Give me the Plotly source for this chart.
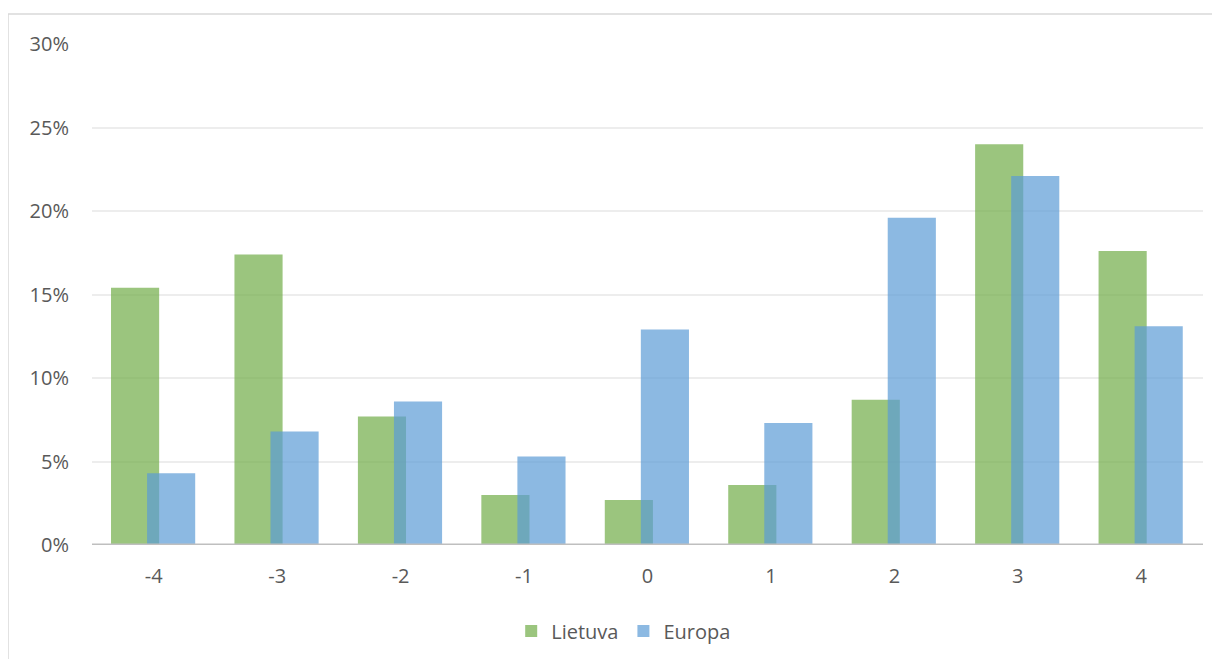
import plotly.graph_objects as go

categories = [-4, -3, -2, -1, 0, 1, 2, 3, 4]
tick_labels = ["-4", "-3", "-2", "-1", "0", "1", "2", "3", "4"]
lietuva = [15.4, 17.4, 7.7, 3.0, 2.7, 3.6, 8.7, 24.0, 17.6]
europa = [4.3, 6.8, 8.6, 5.3, 12.9, 7.3, 19.6, 22.1, 13.1]

font_color = "#595959"
fnt = "Open Sans"

fig = go.Figure()
fig.add_trace(go.Bar(
    x=categories, y=lietuva, name="Lietuva",
    marker=dict(color="rgba(112,173,71,0.7)", line=dict(width=0)),
    offset=-0.346, width=0.39,
))
fig.add_trace(go.Bar(
    x=categories, y=europa, name="Europa",
    marker=dict(color="rgba(91,155,213,0.7)", line=dict(width=0)),
    offset=-0.054, width=0.39,
))

fig.update_layout(
    width=1212, height=651,
    margin=dict(l=84, r=17, t=36, b=114, autoexpand=False),
    paper_bgcolor="white", plot_bgcolor="white",
    barmode="overlay",
    font=dict(family=fnt, size=20, color=font_color),
    showlegend=True,
    legend=dict(orientation="h", xref="container", yref="container",
                x=0.508, xanchor="center", y=0.043, yanchor="middle",
                font=dict(size=20, color=font_color), itemwidth=30, traceorder="normal"),
    xaxis=dict(range=[-4.5, 4.5], tickmode="array", tickvals=categories, ticktext=tick_labels,
               showgrid=False, zeroline=False, showline=False, ticks="", automargin=False,
               tickfont=dict(size=20, color=font_color),
               ticklabelstandoff=17, fixedrange=True),
    yaxis=dict(range=[0, 30], dtick=5, ticksuffix="%", showgrid=True, gridcolor="#EDEDED",
               gridwidth=1.5, zeroline=False, showline=False, ticks="", automargin=False,
               tickfont=dict(size=20, color=font_color),
               ticklabelstandoff=22, fixedrange=True),
    shapes=[
        dict(type="rect", xref="paper", yref="paper", x0=-0.0756, x1=1.2, y0=-0.5, y1=1.0599,
             line=dict(color="#D9D9D9", width=1.5), fillcolor="rgba(0,0,0,0)", layer="below"),
        dict(type="line", xref="paper", yref="y", x0=0, x1=1, y0=0, y1=0,
             line=dict(color="#BFBFBF", width=3), layer="above"),
    ],
)

fig.write_html("out.html")
